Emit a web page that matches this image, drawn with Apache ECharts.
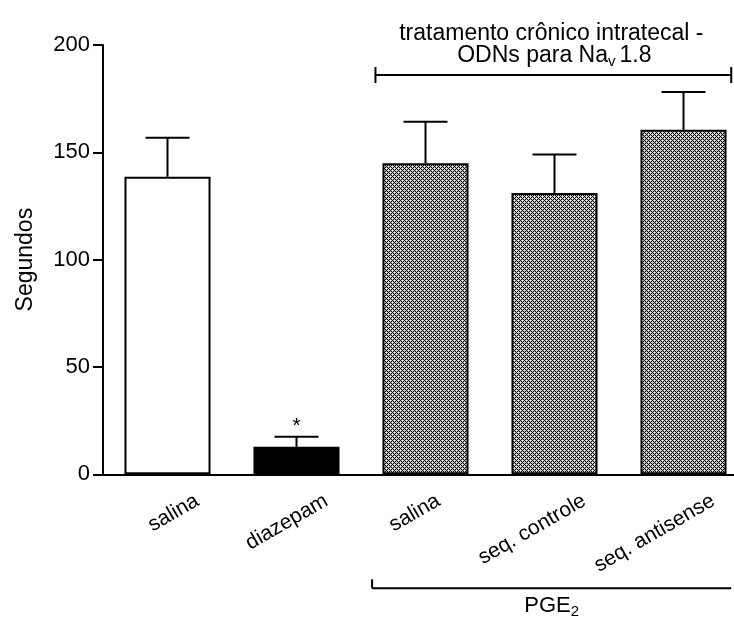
<!DOCTYPE html>
<html><head><meta charset="utf-8">
<script src="https://cdn.jsdelivr.net/npm/echarts@6/dist/echarts.min.js"></script>
<style>html,body{margin:0;padding:0;background:#fff}#c{width:734px;height:623px}</style>
</head><body><div id="c"></div>
<script>
const categories = ['salina', 'diazepam', 'salina', 'seq. controle', 'seq. antisense'];
const means = [138.6, 12.8, 144.9, 131.0, 160.5];
const sems = [18.2, 4.7, 19.3, 18.0, 17.6];
const signif = ['', '*', '', '', ''];
const fills = ['white', 'black', 'hatch', 'hatch', 'hatch'];
const yMin = 0, yMax = 200, yStep = 50;
const topLine1 = 'tratamento crônico intratecal -';
const topLine2 = ['ODNs para Na', 'v', '1.8'];
const bottomLabel = ['PGE', '2'];
const yName = 'Segundos';

const FONT = '"Liberation Sans", Arial, Helvetica, sans-serif';
const LABEL_ROT = 30 * Math.PI / 180;
// horizontal shift of each rotated label's end, as a fraction of the category band
const labelShift = [0.19, 0.19, 0.06, 0.19, 0.19];

function makePattern() {
  const c = document.createElement('canvas');
  c.width = 4; c.height = 4;
  const ctx = c.getContext('2d');
  const img = ctx.createImageData(4, 4);
  for (let y = 0; y < 4; y++) for (let x = 0; x < 4; x++) {
    const blk = ((x + y) % 4 === 0) || ((((x - y) % 4) + 4) % 4 === 0);
    const centre = (x === 2 && y === 0) || (x === 0 && y === 2);
    const i = (y * 4 + x) * 4;
    const v = blk ? 0 : (centre ? 255 : 190);
    img.data[i] = v; img.data[i + 1] = v; img.data[i + 2] = v; img.data[i + 3] = 255;
  }
  ctx.putImageData(img, 0, 0);
  return c;
}
const pattern = { image: makePattern(), repeat: 'repeat' };
function fillColor(f) { return f === 'hatch' ? pattern : (f === 'black' ? '#000' : '#fff'); }

const chart = echarts.init(document.getElementById('c'), null, { renderer: 'canvas' });
chart.setOption({
  animation: false,
  backgroundColor: '#fff',
  grid: { left: 103, top: 45, width: 645, height: 429.3, outerBoundsMode: 'none', containLabel: false },
  xAxis: {
    type: 'category', data: categories, boundaryGap: true,
    axisLine: { lineStyle: { color: '#000', width: 2 } },
    axisTick: { show: false },
    axisLabel: { show: false },
    splitLine: { show: false }
  },
  yAxis: {
    type: 'value', min: yMin, max: yMax, interval: yStep,
    name: yName, nameLocation: 'middle', nameGap: 66, nameRotate: 90,
    nameTextStyle: { color: '#000', fontSize: 23, fontFamily: FONT },
    axisLine: { show: true, lineStyle: { color: '#000', width: 2 } },
    axisTick: { show: true, length: 10, lineStyle: { color: '#000', width: 2 } },
    axisLabel: { color: '#000', fontSize: 22, fontFamily: FONT, margin: 13 },
    splitLine: { show: false }
  },
  series: [
    {
      type: 'custom', z: 1, clip: false,
      renderItem: function (params, api) {
        const i = api.value(0), m = api.value(1), e = api.value(2);
        const p0 = api.coord([i, m]), p1 = api.coord([i, m + e]);
        const half = api.size([1, 0])[0] * 0.341 / 2;
        const children = [
          { type: 'line', shape: { x1: p0[0], y1: p0[1], x2: p1[0], y2: p1[1] }, style: { stroke: '#000', lineWidth: 2 } },
          { type: 'line', shape: { x1: p1[0] - half, y1: p1[1], x2: p1[0] + half, y2: p1[1] }, style: { stroke: '#000', lineWidth: 2 } }
        ];
        const s = signif[params.dataIndex];
        if (s) children.push({ type: 'text', style: { text: s, x: p1[0], y: p1[1] - 11, align: 'center', verticalAlign: 'middle', fontSize: 21, fontFamily: FONT, fill: '#000' } });
        return { type: 'group', children: children };
      },
      data: categories.map((c, i) => [i, means[i], sems[i]])
    },
    {
      type: 'custom', z: 3, clip: false, silent: true,
      renderItem: function (params, api) {
        const i = api.value(0);
        const p = api.coord([i, 0]);
        const band = api.size([1, 0])[0];
        return {
          type: 'text', x: p[0] + labelShift[params.dataIndex] * band, y: p[1] + 16, rotation: LABEL_ROT,
          style: { text: categories[params.dataIndex], align: 'right', verticalAlign: 'top', fontSize: 21, fontFamily: FONT, fill: '#000' }
        };
      },
      data: categories.map((c, i) => [i, 0])
    },
    {
      type: 'bar', z: 2, barCategoryGap: '33.3%',
      data: means.map((v, i) => ({ value: v, itemStyle: { color: fillColor(fills[i]), borderColor: '#000', borderWidth: 2 } }))
    }
  ]
});

const measurer = document.createElement('canvas').getContext('2d');
function tw(t, size) { measurer.font = size + 'px ' + FONT; return measurer.measureText(t).width; }
const c2 = chart.convertToPixel({ xAxisIndex: 0 }, 2);
const c3 = chart.convertToPixel({ xAxisIndex: 0 }, 3);
const c4 = chart.convertToPixel({ xAxisIndex: 0 }, 4);
const base = chart.convertToPixel({ yAxisIndex: 0 }, 0);
const band = c3 - c2;
const bl = c2 - 0.388 * band, br = Math.min(c4 + 0.37 * band, 732);
const cx = (bl + br) / 2 - 2;
const yTop = chart.convertToPixel({ yAxisIndex: 0 }, 186);
const g = [];
const ln = (x1, y1, x2, y2) => ({ type: 'line', shape: { x1, y1, x2, y2 }, style: { stroke: '#000', lineWidth: 2 } });
const tx = (t, x, y, size, align) => ({ type: 'text', style: { text: t, x, y, align: align || 'left', verticalAlign: 'middle', fontSize: size, fontFamily: FONT, fill: '#000' } });
g.push(ln(bl, yTop, br, yTop));
g.push(ln(bl, yTop - 8, bl, yTop + 8));
g.push(ln(br, yTop - 8, br, yTop + 8));
g.push(tx(topLine1, cx, yTop - 41.5, 23, 'center'));
const w1 = tw(topLine2[0], 23), w2 = tw(topLine2[1], 15), w3 = tw(topLine2[2], 23);
const gap = 4;
const sx = cx + 3 - (w1 + w2 + gap + w3) / 2;
const y2 = yTop - 19.5;
g.push(tx(topLine2[0], sx, y2, 23));
g.push(tx(topLine2[1], sx + w1, y2 + 6, 15));
g.push(tx(topLine2[2], sx + w1 + w2 + gap, y2, 23));
const yb = base + 114;
const bbl = c2 - 0.414 * band;
g.push(ln(bbl, yb, br, yb));
g.push(ln(bbl, yb - 9, bbl, yb));
const pw1 = tw(bottomLabel[0], 22), pw2 = tw(bottomLabel[1], 15);
const px = (bbl + br) / 2 - (pw1 + pw2) / 2;
const py = yb + 18;
g.push(tx(bottomLabel[0], px, py, 22));
g.push(tx(bottomLabel[1], px + pw1, py + 6, 15));
chart.setOption({ graphic: g });
</script></body></html>
